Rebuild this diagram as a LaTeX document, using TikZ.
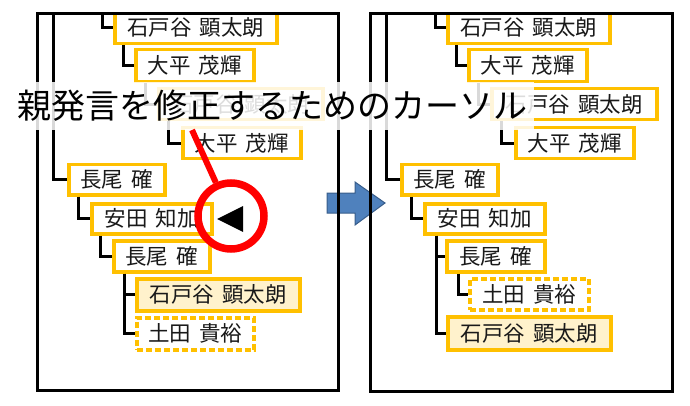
\documentclass[tikz,border=0pt]{standalone}
\usepackage{fontspec}
\newfontfamily\jp[WordSpace=1.7]{Noto Sans CJK JP}
\definecolor{orng}{HTML}{FFC000}
\definecolor{cream}{HTML}{FFF2CC}
\definecolor{arrowblue}{HTML}{4F81BD}
\definecolor{arrowedge}{HTML}{385D8A}
\begin{document}
\begin{tikzpicture}[x=1pt,y=-1pt,
  nbox/.style={draw=orng, line width=3.5pt, fill=white, inner sep=0pt, anchor=north west,
    font=\jp\fontsize{21.5}{21.5}\selectfont, text=black!90},
  filledbox/.style={nbox, fill=cream},
  dashbox/.style={nbox, dash pattern=on 6pt off 3pt},
  conn/.style={draw=black, line width=3pt},
  frame/.style={draw=black, line width=3pt},
  titlebox/.style={fill=white, fill opacity=0.85, text opacity=1, inner sep=0pt,
    font=\jp\fontsize{34}{34}\selectfont, minimum width=523pt, minimum height=48pt},
  cursor/.style={circle, draw=red, line width=7.5pt, minimum size=66pt, inner sep=0pt},
  pointer/.style={draw=red, line width=6pt},
  bigarrow/.style={draw=arrowedge, fill=arrowblue, line width=1pt}
]
\useasboundingbox (0,0) rectangle (690,406);

% blue arrow (beneath frames)
\draw[bigarrow] (327,193) -- (355,193) -- (355,182) -- (385,203) -- (355,225) -- (355,213) -- (327,213) -- cycle;

% ---------- left panel ----------
\begin{scope}
\clip (37,14) rectangle (338,390);
\node[nbox, minimum width=162pt, minimum height=32pt] (L1) at (113,10) {石戸谷 顕太朗};
\node[nbox, minimum width=118pt, minimum height=32pt] (L2) at (134,48) {大平 茂輝};
\node[nbox, minimum width=164pt, minimum height=31pt] (L3) at (157,87) {石戸谷 顕太朗};
\node[nbox, minimum width=118pt, minimum height=31pt] (L4) at (181,126) {大平 茂輝};
\node[nbox, minimum width=96pt, minimum height=30pt] (L5) at (67,163) {長尾 確};
\node[nbox, minimum width=120pt, minimum height=30pt] (L6) at (90,202) {安田 知加};
\node[nbox, minimum width=96pt, minimum height=31pt] (L7) at (112,239) {長尾 確};
\node[filledbox, minimum width=163pt, minimum height=32pt] (L8) at (135,277) {石戸谷 顕太朗};
\node[dashbox, minimum width=117pt, minimum height=32pt] (L9) at (135,316) {土田 貴裕};
\coordinate (Ltop1) at (102,8);
\coordinate (Ltop2) at (53,8);
\draw[conn] (Ltop1) |- (L1.west);
\draw[conn] ([xshift=10pt]L1.south west) |- (L2.west);
\draw[conn] ([xshift=11pt]L2.south west) |- (L3.west);
\draw[conn] ([xshift=11pt]L3.south west) |- (L4.west);
\draw[conn] (Ltop2) |- (L5.west);
\draw[conn] ([xshift=11pt]L5.south west) |- (L6.west);
\draw[conn] ([xshift=10pt]L6.south west) |- (L7.west);
\draw[conn] ([xshift=12pt]L7.south west) |- (L8.west);
\draw[conn] ([xshift=12pt]L7.south west) |- (L9.west);
\end{scope}
\draw[frame] (37,14) rectangle (338,390);

% ---------- right panel ----------
\begin{scope}
\clip (370,14) rectangle (672,391);
\node[nbox, minimum width=162pt, minimum height=32pt] (R1) at (446,10) {石戸谷 顕太朗};
\node[nbox, minimum width=118pt, minimum height=32pt] (R2) at (467,48) {大平 茂輝};
\node[nbox, minimum width=165pt, minimum height=31pt] (R3) at (490,87) {石戸谷 顕太朗};
\node[nbox, minimum width=118pt, minimum height=31pt] (R4) at (514,126) {大平 茂輝};
\node[nbox, minimum width=96pt, minimum height=30pt] (R5) at (400,163) {長尾 確};
\node[nbox, minimum width=120pt, minimum height=30pt] (R6) at (423,202) {安田 知加};
\node[nbox, minimum width=98pt, minimum height=31pt] (R7) at (445,239) {長尾 確};
\node[dashbox, minimum width=119pt, minimum height=31pt] (R8) at (468,277) {土田 貴裕};
\node[filledbox, minimum width=163pt, minimum height=33pt] (R9) at (446,315) {石戸谷 顕太朗};
\coordinate (Rtop1) at (435,8);
\coordinate (Rtop2) at (386,8);
\draw[conn] (Rtop1) |- (R1.west);
\draw[conn] ([xshift=10pt]R1.south west) |- (R2.west);
\draw[conn] ([xshift=11pt]R2.south west) |- (R3.west);
\draw[conn] ([xshift=11pt]R3.south west) |- (R4.west);
\draw[conn] (Rtop2) |- (R5.west);
\draw[conn] ([xshift=11pt]R5.south west) |- (R6.west);
\draw[conn] ([xshift=13pt]R6.south west) |- (R7.west);
\draw[conn] ([xshift=13pt]R6.south west) |- (R9.west);
\draw[conn] ([xshift=13pt]R7.south west) |- (R8.west);
\end{scope}
\draw[frame] (370,14) rectangle (672,391);

% ---------- title band ----------
\node[titlebox] (title) at (272,106) {親発言を修正するためのカーソル};

% ---------- cursor ----------
\node[cursor] (cur) at (231,216) {};
\fill[black] (243,206) -- (243,232) -- (217,219) -- cycle;
\coordinate (ptr) at (192,130);
\draw[pointer] (ptr) -- (cur);
\end{tikzpicture}
\end{document}
